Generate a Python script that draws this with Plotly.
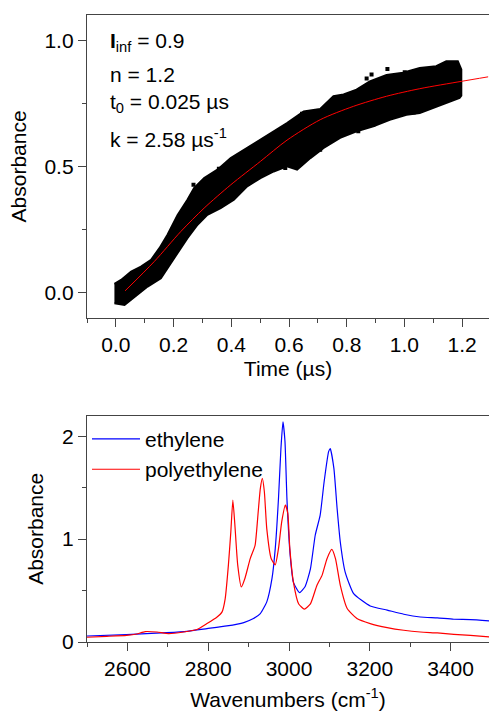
import plotly.graph_objects as go

# ---------------- Top panel data ----------------
# envelope of the dense measured point cloud
cloud_upper_t = [-0.005, 0.018, 0.053, 0.087, 0.122, 0.151, 0.179, 0.214, 0.248, 0.271, 0.306, 0.352,
                 0.398, 0.444, 0.501, 0.547, 0.593, 0.651, 0.708, 0.754, 0.789, 0.834, 0.880, 0.938,
                 0.995, 1.053, 1.110, 1.145, 1.185, 1.197]
cloud_upper_a = [0.035, 0.050, 0.083, 0.103, 0.130, 0.176, 0.229, 0.308, 0.368, 0.414, 0.454, 0.487,
                 0.533, 0.566, 0.606, 0.639, 0.672, 0.718, 0.728, 0.778, 0.785, 0.804, 0.837, 0.862,
                 0.871, 0.890, 0.897, 0.917, 0.917, 0.884]
cloud_lower_t = [-0.005, 0.030, 0.064, 0.110, 0.156, 0.202, 0.248, 0.283, 0.317, 0.363, 0.409, 0.455,
                 0.501, 0.547, 0.593, 0.628, 0.674, 0.720, 0.777, 0.834, 0.892, 0.949, 1.007, 1.053,
                 1.099, 1.145, 1.191, 1.197]
cloud_lower_a = [-0.042, -0.049, -0.016, 0.024, 0.057, 0.136, 0.216, 0.269, 0.308, 0.335, 0.368, 0.421,
                 0.454, 0.480, 0.500, 0.487, 0.533, 0.573, 0.613, 0.639, 0.659, 0.685, 0.705, 0.712,
                 0.732, 0.752, 0.771, 0.780]
outlier_t = [0.269, 0.357, 0.587, 0.645, 0.708, 0.840, 0.869, 0.886, 0.892, 0.941, 1.001, 1.032, 0.185]
outlier_a = [0.427, 0.491, 0.494, 0.709, 0.566, 0.639, 0.848, 0.864, 0.665, 0.886, 0.873, 0.714, 0.136]

fit_t = [0.032, 0.133, 0.225, 0.306, 0.398, 0.501, 0.593, 0.708, 0.823, 0.938, 1.053, 1.197, 1.29]
fit_a = [0.007, 0.123, 0.242, 0.335, 0.427, 0.520, 0.604, 0.685, 0.738, 0.778, 0.808, 0.837, 0.855]

fit_labels = ["<b>I</b><sub>inf</sub> = 0.9", "n = 1.2", "t<sub>0</sub> = 0.025 \u00b5s",
              "k = 2.58 \u00b5s<sup>-1</sup>"]

# ---------------- Bottom panel data ----------------
eth_wn = [2499, 2598, 2697, 2747, 2797, 2846, 2888, 2912, 2929, 2945, 2958, 2966, 2974, 2980, 2985,
          2990, 2995, 3003, 3011, 3026, 3040, 3053, 3065, 3077, 3087, 3098, 3102, 3111, 3119, 3127,
          3139, 3160, 3201, 3243, 3284, 3325, 3367, 3408, 3449, 3500]
eth_abs = [0.058, 0.072, 0.091, 0.104, 0.130, 0.156, 0.189, 0.228, 0.276, 0.39, 0.62, 0.91, 1.40, 1.88,
           2.14, 1.95, 1.38, 0.84, 0.58, 0.48, 0.54, 0.71, 1.04, 1.23, 1.56, 1.85, 1.88, 1.69, 1.30,
           0.97, 0.68, 0.47, 0.35, 0.31, 0.27, 0.243, 0.234, 0.221, 0.218, 0.205]
poly_wn = [2499, 2549, 2598, 2623, 2644, 2673, 2702, 2739, 2772, 2797, 2822, 2834, 2842, 2850, 2856,
           2861, 2866, 2873, 2882, 2891, 2904, 2916, 2923, 2929, 2934, 2939, 2945, 2956, 2966, 2974,
           2982, 2991, 2997, 3002, 3011, 3024, 3038, 3053, 3069, 3082, 3094, 3106, 3115, 3127, 3144,
           3168, 3201, 3243, 3284, 3325, 3367, 3408, 3449, 3500]
poly_abs = [0.046, 0.055, 0.065, 0.078, 0.101, 0.097, 0.082, 0.097, 0.121, 0.179, 0.243, 0.29, 0.42,
            0.75, 1.07, 1.38, 1.14, 0.75, 0.535, 0.62, 0.81, 0.94, 1.23, 1.49, 1.59, 1.46, 1.10, 0.81,
            0.75, 0.91, 1.17, 1.33, 1.25, 0.91, 0.58, 0.37, 0.32, 0.37, 0.55, 0.65, 0.81, 0.90, 0.81,
            0.55, 0.325, 0.228, 0.179, 0.140, 0.114, 0.097, 0.088, 0.075, 0.065, 0.049]

FONT = "Liberation Sans, Arial, sans-serif"
FS = 21
AXC = "#444444"

fig = go.Figure()

# point cloud as filled envelope
fig.add_trace(go.Scatter(
    x=cloud_upper_t + cloud_lower_t[::-1], y=cloud_upper_a + cloud_lower_a[::-1],
    fill="toself", fillcolor="black", mode="lines", line=dict(color="black", width=2),
    showlegend=False, xaxis="x", yaxis="y", hoverinfo="skip"))
fig.add_trace(go.Scatter(
    x=outlier_t, y=outlier_a, mode="markers",
    marker=dict(symbol="square", size=4, color="black"),
    showlegend=False, xaxis="x", yaxis="y"))
fig.add_trace(go.Scatter(
    x=fit_t, y=fit_a, mode="lines", line=dict(color="#ff0000", width=1, shape="spline", smoothing=0.8),
    showlegend=False, xaxis="x", yaxis="y"))

fig.add_trace(go.Scatter(
    x=eth_wn, y=eth_abs, mode="lines", name="ethylene",
    line=dict(color="#0000ff", width=1.2, shape="spline", smoothing=0.5),
    xaxis="x2", yaxis="y2"))
fig.add_trace(go.Scatter(
    x=poly_wn, y=poly_abs, mode="lines", name="polyethylene",
    line=dict(color="#ff0000", width=1.2, shape="spline", smoothing=0.5),
    xaxis="x2", yaxis="y2"))

ax_common = dict(showline=True, linecolor=AXC, linewidth=1.3, ticks="outside", ticklen=8,
                 tickcolor=AXC, tickwidth=1.3, showgrid=False, zeroline=False,
                 tickfont=dict(size=FS, color="black", family=FONT),
                 title_font=dict(size=FS, color="black", family=FONT))

fig.update_layout(
    width=489, height=719,
    margin=dict(l=87, r=0, t=15, b=77),
    paper_bgcolor="white", plot_bgcolor="white",
    font=dict(family=FONT, size=FS, color="black"),
    xaxis=dict(**ax_common, domain=[0, 1], anchor="y", range=[-0.1, 1.293], mirror=True,
               tickvals=[0, 0.2, 0.4, 0.6, 0.8, 1.0, 1.2],
               ticktext=["0.0", "0.2", "0.4", "0.6", "0.8", "1.0", "1.2"],
               minor=dict(dtick=0.1, tick0=0.1, ticklen=4, ticks="outside", tickcolor=AXC, tickwidth=1.3),
               title=dict(text="Time (\u00b5s)", standoff=6)),
    yaxis=dict(**ax_common, domain=[0.517, 1], anchor="x", range=[-0.1, 1.1],
               tickvals=[0, 0.5, 1.0], ticktext=["0.0", "0.5", "1.0"],
               minor=dict(dtick=0.25, tick0=0.25, ticklen=4, ticks="outside", tickcolor=AXC, tickwidth=1.3),
               title=dict(text="Absorbance", standoff=12)),
    xaxis2=dict(**ax_common, domain=[0, 1], anchor="y2", range=[2500, 3495], mirror=True,
                tickvals=[2600, 2800, 3000, 3200, 3400],
                minor=dict(dtick=100, tick0=2500, ticklen=4, ticks="outside", tickcolor=AXC, tickwidth=1.3),
                title=dict(text="Wavenumbers (cm<sup>-1</sup>)", standoff=12)),
    yaxis2=dict(**ax_common, domain=[0, 0.361], anchor="x2", range=[0, 2.2],
                tickvals=[0, 1, 2],
                minor=dict(dtick=0.5, tick0=0.5, ticklen=4, ticks="outside", tickcolor=AXC, tickwidth=1.3),
                title=dict(text="Absorbance", standoff=12)),
    legend=dict(x=0.0, y=0.356, xanchor="left", yanchor="top", bgcolor="rgba(0,0,0,0)",
                font=dict(size=FS, family=FONT, color="black"), tracegroupgap=0, itemwidth=48),
)

label_y = [0.957, 0.905, 0.860, 0.804]
for txt, yy in zip(fit_labels, label_y):
    fig.add_annotation(text=txt, xref="paper", yref="paper", x=0.053, y=yy,
                       xanchor="left", yanchor="middle", showarrow=False,
                       font=dict(size=FS, family=FONT, color="black"))

fig.write_html("out.html")
